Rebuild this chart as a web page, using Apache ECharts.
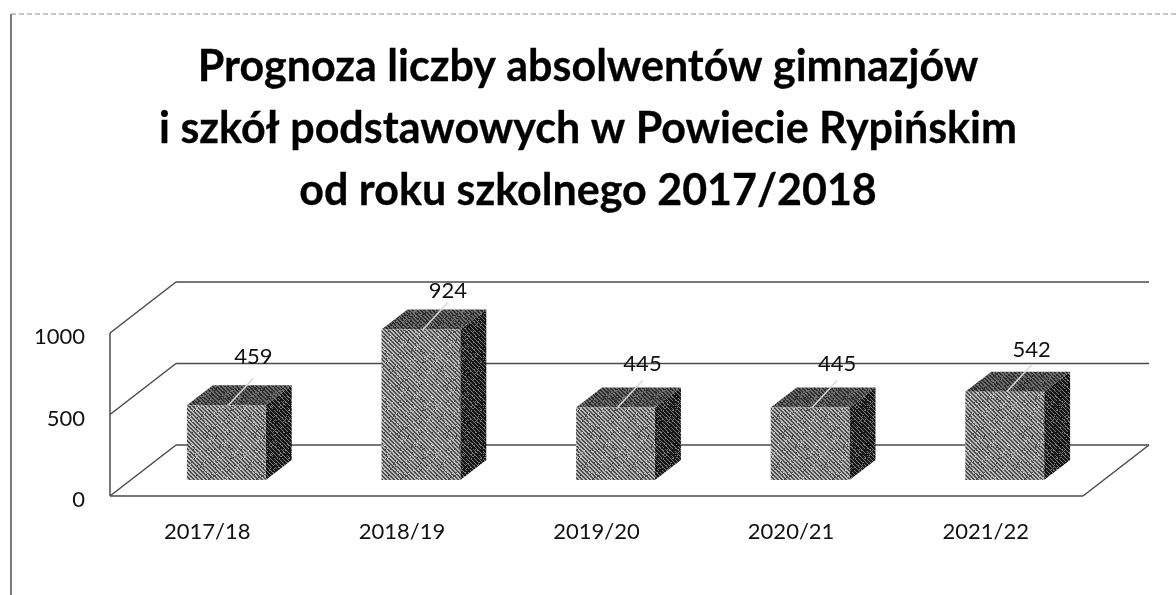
<!DOCTYPE html>
<html lang="pl">

<head>
    <meta charset="UTF-8">
    <title>Prognoza liczby absolwentów</title>
    <script src="https://cdn.jsdelivr.net/npm/echarts@6/dist/echarts.min.js"></script>
    <style>
        html, body { margin: 0; padding: 0; background: #fff; }
        #container { width: 1176px; height: 595px; }
    </style>
</head>

<body>
    <div id="container"></div>
</body>
<script>
    var titleText = 'Prognoza liczby absolwentów gimnazjów\ni szkół podstawowych w Powiecie Rypińskim\nod roku szkolnego 2017/2018';
    var years = ['2017/18', '2018/19', '2019/20', '2020/21', '2021/22'];
    var graduates = [459, 924, 445, 445, 542];
    var wallTicks = [0, 500, 1000];
    // how far above the bar top each value label sits, px
    var labelLift = [48, 38, 44, 44, 42];

    var fontName = 'Lato';
    var lineColor = '#4a4a4a';

    // scanned-print look: diagonal hatch with some grit, fixed pattern
    var makeTile = function (dark, light, step, band, grit) {
        var size = 48;
        var c = document.createElement('canvas');
        c.width = size;
        c.height = size;
        var ctx = c.getContext('2d');
        for (var y = 0; y < size; y++) {
            for (var x = 0; x < size; x++) {
                var h = (x * 31 + y * 57 + x * y * 13) % 37;
                var on = (x - y + size) % step < band;
                if (h < grit) on = !on;
                ctx.fillStyle = on ? light : dark;
                ctx.fillRect(x, y, 1, 1);
            }
        }
        return { image: c, repeat: 'repeat' };
    };
    var frontFill = makeTile('#4c4c4c', '#bcbcbc', 4, 2, 2);
    var topFill = makeTile('#2e2e2e', '#6e6e6e', 4, 2, 4);
    var sideFill = makeTile('#161616', '#7a7a7a', 4, 1, 3);

    var wallDx = 66, wallDy = -51;
    var barDx = 26, barDy = -20;

    var renderWall = function (params, api) {
        var sys = params.coordSys;
        var y = api.coord([0, api.value(1)])[1];
        var x0 = sys.x, x1 = sys.x + sys.width;
        var line = function (a, b, c, d) {
            return {
                type: 'line',
                shape: { x1: a, y1: b, x2: c, y2: d },
                style: { stroke: lineColor, lineWidth: 1.5 }
            };
        };
        var children = [
            line(x0, y, x0 + wallDx, y + wallDy),
            line(x0 + wallDx, y + wallDy, x1 + wallDx, y + wallDy)
        ];
        if (api.value(1) === 0) {
            children.push(line(x0, y, x1, y));
            children.push(line(x1, y, x1 + wallDx, y + wallDy));
            children.push(line(x0, y, x0, sys.y));
        }
        return { type: 'group', children: children };
    };

    var renderBar = function (params, api) {
        var idx = api.value(0);
        var base = api.coord([idx, 0]);
        var top = api.coord([idx, api.value(1)]);
        var w = api.size([1, 0])[0] * 0.405;
        var cx = base[0] + 19;
        var l = cx - w / 2, r = cx + w / 2;
        var by = base[1] - 16;
        var ty = top[1] - 16;
        var poly = function (points, fill) {
            return { type: 'polygon', shape: { points: points }, style: { fill: fill } };
        };
        return {
            type: 'group',
            children: [
                poly([[r, by], [r + barDx, by + barDy], [r + barDx, ty + barDy], [r, ty]], sideFill),
                poly([[l, ty], [l + barDx, ty + barDy], [r + barDx, ty + barDy], [r, ty]], topFill),
                poly([[l, by], [r, by], [r, ty], [l, ty]], frontFill),
                {
                    type: 'line',
                    shape: { x1: cx + 2, y1: ty, x2: cx + 27, y2: ty - 27 },
                    style: { stroke: '#d8d8d8', lineWidth: 1.5 }
                },
                {
                    type: 'text',
                    style: {
                        x: cx + 27,
                        y: ty - labelLift[idx],
                        text: String(api.value(1)),
                        fill: '#111',
                        font: '22px ' + fontName,
                        align: 'center',
                        verticalAlign: 'middle'
                    }
                }
            ]
        };
    };

    var chart = echarts.init(document.getElementById('container'), null, { renderer: 'canvas' });
    chart.setOption({
        animation: false,
        backgroundColor: '#fff',
        title: {
            text: titleText,
            left: 'center',
            top: 31,
            textStyle: {
                fontFamily: fontName,
                fontWeight: 'bold',
                fontSize: 43,
                lineHeight: 62,
                color: '#000',
                textBorderColor: '#000',
                textBorderWidth: 0.3
            }
        },
        graphic: [
            { type: 'line', shape: { x1: 11, y1: 14, x2: 11, y2: 595 }, style: { stroke: '#444', lineWidth: 1.4 } },
            { type: 'line', shape: { x1: 11, y1: 14, x2: 1176, y2: 14 }, style: { stroke: '#8a8a8a', lineWidth: 1, lineDash: [5, 3] } }
        ],
        grid: { left: 110, right: 93, top: 333, bottom: 99 },
        xAxis: {
            type: 'category',
            data: years,
            axisLine: { show: false },
            axisTick: { show: false },
            axisLabel: { margin: 25, fontFamily: fontName, fontSize: 22, color: '#111' }
        },
        yAxis: {
            type: 'value',
            min: 0,
            max: 1000,
            interval: 500,
            axisLine: { show: false },
            axisTick: { show: false },
            splitLine: { show: false },
            axisLabel: {
                margin: 25,
                fontFamily: fontName,
                fontSize: 22,
                color: '#111',
                verticalAlign: 'top',
                lineHeight: 8,
                formatter: function (v) { return String(v); }
            }
        },
        series: [
            {
                type: 'custom',
                renderItem: renderWall,
                silent: true,
                z: 1,
                data: wallTicks.map(function (v) { return [0, v]; })
            },
            {
                type: 'custom',
                renderItem: renderBar,
                z: 2,
                data: graduates.map(function (v, i) { return [i, v]; })
            }
        ]
    });
</script>

</html>
